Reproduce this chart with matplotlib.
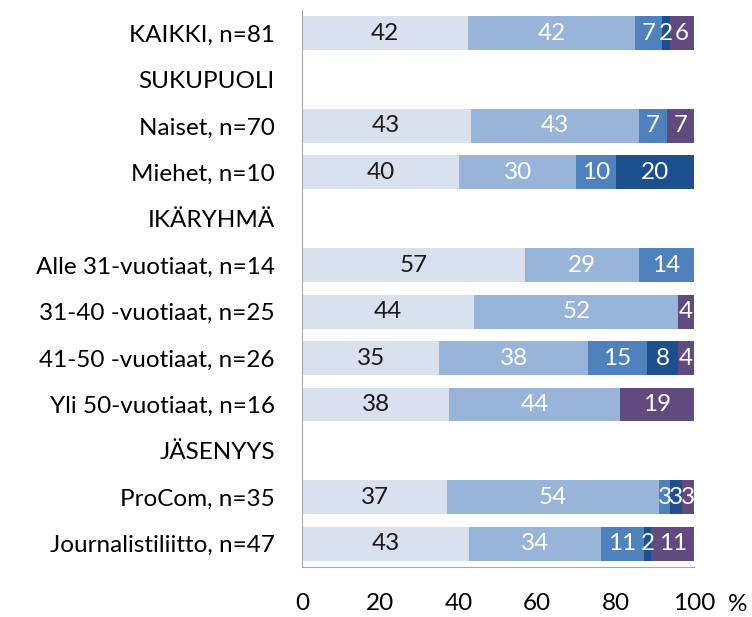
import matplotlib.pyplot as plt
import numpy as np

plt.rcParams['font.family'] = ['Lato', 'DejaVu Sans']

# rows from top to bottom; header rows have no bars
categories = ['KAIKKI, n=81', 'SUKUPUOLI', 'Naiset, n=70', 'Miehet, n=10',
              'IKÄRYHMÄ', 'Alle 31-vuotiaat, n=14', '31-40 -vuotiaat, n=25',
              '41-50 -vuotiaat, n=26', 'Yli 50-vuotiaat, n=16', 'JÄSENYYS',
              'ProCom, n=35', 'Journalistiliitto, n=47']
s1 = [42, 0, 43, 40, 0, 57, 44, 35, 38, 0, 37, 43]
s2 = [42, 0, 43, 30, 0, 29, 52, 38, 44, 0, 54, 34]
s3 = [7, 0, 7, 10, 0, 14, 0, 15, 0, 0, 3, 11]
s4 = [2, 0, 0, 20, 0, 0, 0, 8, 0, 0, 3, 2]
s5 = [6, 0, 7, 0, 0, 0, 4, 4, 19, 0, 3, 11]

series = [s1, s2, s3, s4, s5]
colors = ['#d9e1ef', '#98b4d8', '#4f81bd', '#1c4f8e', '#614a7d']
text_colors = ['#1a1a1a', 'white', 'white', 'white', 'white']

fig = plt.figure(figsize=(7.52, 6.17), dpi=100)
ax = fig.add_axes([0.4016, 0.081, 0.5213, 0.903])

y = np.arange(len(categories))
totals = np.sum(np.array(series, dtype=float), axis=0)
totals[totals == 0] = 1
left = np.zeros(len(categories))
for vals, c, tc in zip(series, colors, text_colors):
    vals = np.array(vals, dtype=float)
    widths = vals / totals * 100  # 100 % stacked
    ax.barh(y, widths, left=left, height=0.73, color=c, edgecolor='none')
    for yi, v, w, l in zip(y, vals, widths, left):
        if v > 0:
            ax.text(l + w / 2, yi, f'{int(v)}', ha='center', va='center',
                    color=tc, fontsize=17.5)
    left += widths

ax.set_xlim(0, 100)
ax.set_ylim(len(categories) - 0.5, -0.5)
ax.set_yticks(y)
ax.set_yticklabels(categories, fontsize=17.5)
ax.set_xticks([0, 20, 40, 60, 80, 100])
ax.set_xticklabels(['0', '20', '40', '60', '80', '100'], fontsize=17.5)
ax.tick_params(axis='y', length=0, pad=19.5)
ax.tick_params(axis='x', length=0, pad=19)
for side in ['top', 'right']:
    ax.spines[side].set_visible(False)
for side in ['left', 'bottom']:
    ax.spines[side].set_color('#a6a6a6')
ax.text(1.11, -0.068, '%', transform=ax.transAxes, fontsize=17.5,
        ha='center', va='center')

fig.savefig('out.png', dpi=100)
